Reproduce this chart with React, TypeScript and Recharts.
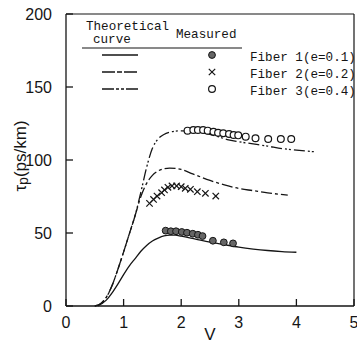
import { ComposedChart, Line, Scatter, XAxis, YAxis, ReferenceLine } from "recharts";

const X_TICKS = [0, 1, 2, 3, 4, 5];
const Y_TICKS = [0, 50, 100, 150, 200];

// theoretical curves
const THEORY1_V = [0.55, 0.7, 0.8, 0.9, 1.0, 1.1, 1.2, 1.3, 1.4, 1.5, 1.6, 1.7, 1.8, 1.9, 2.0, 2.25, 2.5, 2.75, 3.0, 3.25, 3.5, 3.75, 4.0];
const THEORY1_TAU = [0, 4, 9, 15, 21.5, 27.5, 32.5, 37.5, 41.5, 44.5, 46.5, 48, 48.6, 48.5, 47.8, 45.8, 43.8, 42, 40.3, 39, 38, 37.3, 36.8];

const THEORY2_V = [0.5, 0.6, 0.7, 0.8, 0.9, 1.0, 1.1, 1.2, 1.3, 1.4, 1.5, 1.6, 1.7, 1.8, 1.9, 2.0, 2.2, 2.5, 2.75, 3.0, 3.25, 3.5, 3.85];
const THEORY2_TAU = [0, 1.5, 6, 14, 25, 37, 49.5, 62, 75, 84, 89.5, 92.5, 94, 94.5, 94.3, 93.5, 90.5, 86, 83, 80.5, 79, 77.5, 76];

const THEORY3_V = [0.5, 0.6, 0.7, 0.8, 0.9, 1.0, 1.1, 1.2, 1.3, 1.4, 1.5, 1.6, 1.7, 1.8, 1.9, 2.0, 2.2, 2.4, 2.6, 2.8, 3.0, 3.25, 3.5, 3.75, 4.0, 4.35];
const THEORY3_TAU = [0, 1.5, 6, 14, 25, 37, 49.5, 62, 78, 95, 108, 114.5, 117.5, 119, 119.8, 120, 119.8, 118.5, 116.5, 114, 112.5, 111, 109.5, 107.8, 106.8, 105.5];

// measured points
const MEAS1_V = [1.73, 1.82, 1.91, 2.01, 2.1, 2.2, 2.29, 2.37, 2.55, 2.74, 2.9];
const MEAS1_TAU = [51.6, 51.2, 51.2, 50.7, 50.2, 49.5, 48.8, 47.9, 44.7, 43.6, 42.9];

const MEAS2_V = [1.45, 1.52, 1.58, 1.66, 1.71, 1.77, 1.84, 1.92, 2.0, 2.07, 2.16, 2.28, 2.42, 2.6];
const MEAS2_TAU = [70.3, 73, 75.3, 77.6, 79.5, 81.3, 82.2, 82.2, 81.7, 80.6, 79.9, 78.3, 77.2, 75.3];

const MEAS3_V = [2.11, 2.21, 2.29, 2.38, 2.46, 2.56, 2.64, 2.73, 2.83, 2.91, 2.99, 3.12, 3.29, 3.51, 3.73, 3.91];
const MEAS3_TAU = [120.1, 120.5, 120.5, 120.5, 120.1, 119.4, 118.7, 118.3, 117.8, 117.1, 116.9, 116, 114.9, 114.4, 114.4, 114.4];

const zip = (vs: number[], ts: number[]) => vs.map((v, i) => ({ v, tau: ts[i] }));

const INK = "#151515";
const DASH2 = "11 3 3 3";
const DASH3 = "11 3 2 2 2 3";
const MONO = "'Liberation Mono', 'DejaVu Sans Mono', monospace";
const SANS = "'Liberation Sans', Arial, sans-serif";

const FilledDot = (p: any) => (
  <circle cx={p.cx} cy={p.cy} r={3.4} fill="#666" stroke={INK} strokeWidth={1} />
);
const OpenDot = (p: any) => (
  <circle cx={p.cx} cy={p.cy} r={3.4} fill="#fff" stroke={INK} strokeWidth={1.2} />
);
const Cross = (p: any) => {
  const s = 3.2;
  return (
    <g stroke={INK} strokeWidth={1.2}>
      <line x1={p.cx - s} y1={p.cy - s} x2={p.cx + s} y2={p.cy + s} />
      <line x1={p.cx - s} y1={p.cy + s} x2={p.cx + s} y2={p.cy - s} />
    </g>
  );
};

const YLabel = (props: any) => {
  const vb = props.viewBox;
  const cx = vb.x + 20;
  const cy = vb.y + vb.height / 2 - 4;
  return (
    <text
      x={cx}
      y={cy}
      transform={`rotate(-90 ${cx} ${cy})`}
      textAnchor="middle"
      dominantBaseline="central"
      fontFamily={SANS}
      fontSize={17}
      fill={INK}
    >
      τ<tspan fontSize={14} dy={3}>p</tspan>
      <tspan dy={-3}>(ps/km)</tspan>
    </text>
  );
};

function LegendBox() {
  const rows = [
    { y: 55, dash: undefined, label: "Fiber 1(e=0.1)", mark: "filled" },
    { y: 72, dash: "13 2 5 2", label: "Fiber 2(e=0.2)", mark: "cross" },
    { y: 89, dash: "12 2 3 2 3 2", label: "Fiber 3(e=0.4)", mark: "open" },
  ];
  return (
    <svg
      width={357}
      height={345}
      style={{ position: "absolute", left: 0, top: 0, pointerEvents: "none" }}
    >
      <g fontFamily={MONO} fontSize={12.6} fill={INK}>
        <text x={86} y={27} dominantBaseline="central">Theoretical</text>
        <text x={93} y={40} dominantBaseline="central">curve</text>
        <text x={176} y={35} dominantBaseline="central">Measured</text>
        <line x1={82} x2={242} y1={48} y2={48} stroke={INK} strokeWidth={1.2} />
        {rows.map((r) => (
          <g key={r.label}>
            <line x1={102} x2={138} y1={r.y} y2={r.y} stroke={INK} strokeWidth={1.4} strokeDasharray={r.dash} />
            {r.mark === "filled" && <FilledDot cx={212} cy={r.y} />}
            {r.mark === "cross" && <Cross cx={212} cy={r.y} />}
            {r.mark === "open" && <OpenDot cx={212} cy={r.y} />}
            <text x={250} y={r.y + 3} dominantBaseline="central">{r.label}</text>
          </g>
        ))}
      </g>
    </svg>
  );
}

export default function App() {
  const axisStyle = { fontFamily: SANS, fontSize: 16, fill: INK };
  return (
    <div style={{ position: "absolute", left: 0, top: 0, width: 357, height: 345, background: "#fff" }}>
      <ComposedChart width={357} height={345} margin={{ top: 14, right: 3, left: 0, bottom: 0 }}>
        <XAxis
          dataKey="v"
          type="number"
          domain={[0, 5]}
          ticks={X_TICKS}
          interval={0}
          height={39}
          tickSize={-7}
          tickMargin={18}
          tick={axisStyle}
          stroke={INK}
          strokeWidth={1.3}
          allowDataOverflow
          label={{ value: "V", position: "insideBottom", offset: 5, style: { fontFamily: SANS, fontSize: 17, fill: INK } }}
        />
        <YAxis
          type="number"
          domain={[0, 200]}
          ticks={Y_TICKS}
          interval={0}
          width={66}
          tickSize={-7}
          tickMargin={21}
          tick={axisStyle}
          stroke={INK}
          strokeWidth={1.3}
          label={<YLabel />}
        />
        <ReferenceLine y={200} stroke={INK} strokeWidth={1.2} />
        <ReferenceLine x={5} stroke={INK} strokeWidth={1.2} />
        <Line data={zip(THEORY1_V, THEORY1_TAU)} dataKey="tau" type="monotone" stroke={INK} strokeWidth={1.3} dot={false} isAnimationActive={false} />
        <Line data={zip(THEORY2_V, THEORY2_TAU)} dataKey="tau" type="monotone" stroke={INK} strokeWidth={1.3} strokeDasharray={DASH2} dot={false} isAnimationActive={false} />
        <Line data={zip(THEORY3_V, THEORY3_TAU)} dataKey="tau" type="monotone" stroke={INK} strokeWidth={1.3} strokeDasharray={DASH3} dot={false} isAnimationActive={false} />
        <Scatter data={zip(MEAS1_V, MEAS1_TAU)} dataKey="tau" shape={FilledDot} isAnimationActive={false} />
        <Scatter data={zip(MEAS2_V, MEAS2_TAU)} dataKey="tau" shape={Cross} isAnimationActive={false} />
        <Scatter data={zip(MEAS3_V, MEAS3_TAU)} dataKey="tau" shape={OpenDot} isAnimationActive={false} />
      </ComposedChart>
      <LegendBox />
    </div>
  );
}
